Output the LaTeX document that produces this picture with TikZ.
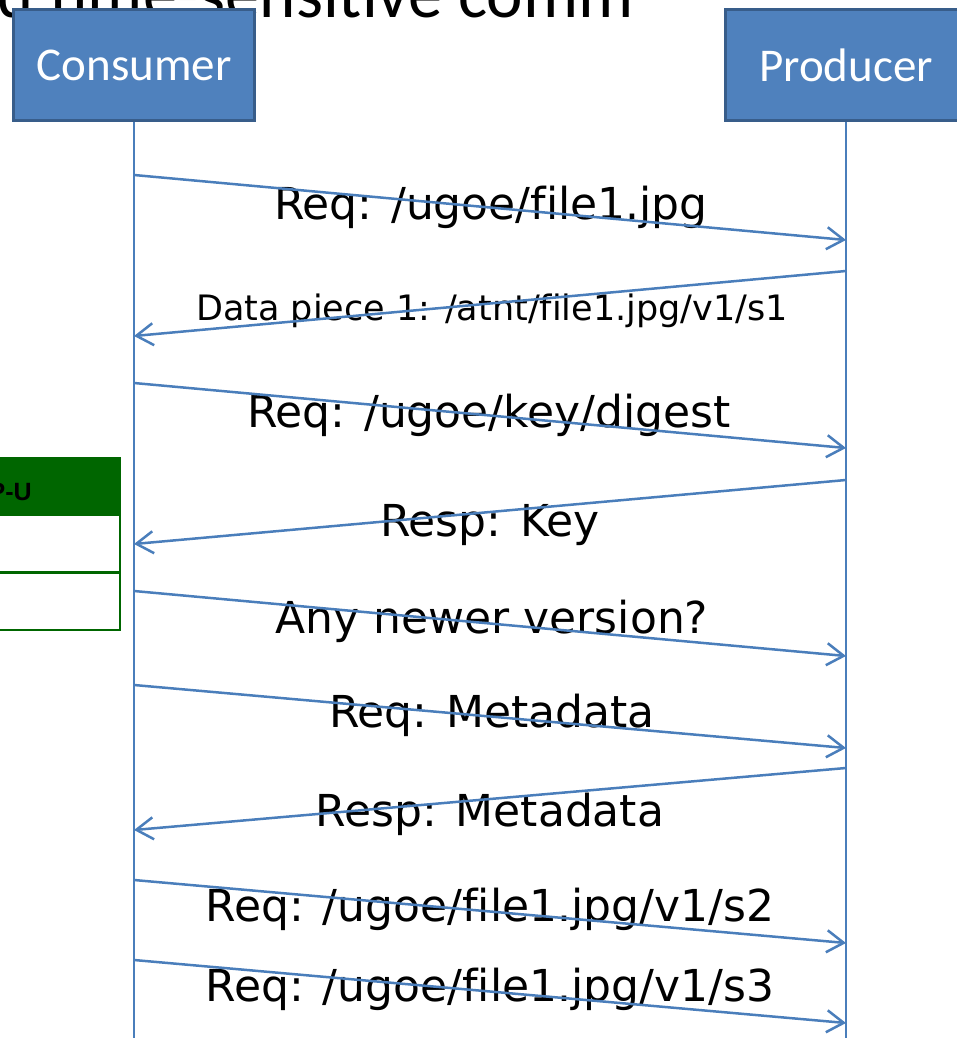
\documentclass[tikz,border=0pt]{standalone}
\usepackage{fontspec}
\setmainfont{DejaVu Sans}[Ligatures=NoCommon]
\newfontfamily\calib{Carlito}[Ligatures=NoCommon]
\newfontfamily\arialf{Liberation Sans}
\usetikzlibrary{arrows.meta}
\definecolor{boxfill}{HTML}{4F81BD}
\definecolor{boxedge}{HTML}{385D8A}
\definecolor{msgline}{HTML}{4A7EBB}
\definecolor{tabgreen}{HTML}{006600}

\begin{document}
\begin{tikzpicture}[x=1pt,y=-1pt,
  actor/.style={draw=boxedge, line width=3pt, fill=boxfill, minimum width=241pt,
    minimum height=111pt, inner sep=0pt, text=white,
    font=\calib\fontsize{47}{56}\selectfont},
  lifeline/.style={draw=msgline, line width=2pt},
  msg/.style={draw=msgline, line width=2.5pt,
    -{Straight Barb[length=17pt,width=22pt]}},
  lbl/.style={anchor=base, inner sep=0pt, font=\fontsize{44}{52}\selectfont},
  smalllbl/.style={anchor=base, inner sep=0pt, font=\fontsize{35}{42}\selectfont},
  tabcell/.style={draw=tabgreen, line width=2pt, minimum width=130pt,
    minimum height=57pt, inner sep=0pt},
]
\useasboundingbox (0,0) rectangle (957,1038);
\clip (0,0) rectangle (957,1038);

% heading line running off the top edge
\node[anchor=base west, inner sep=0pt, font=\calib\fontsize{69}{80}\selectfont]
  (title) at (-3,18) {d time-sensitive comm};

% participants
\node[actor] (cons) at (134,65) {Consumer};
\node[actor] (prod) at (846,65) {Producer};

% lifelines
\coordinate (consend) at (134,1040);
\coordinate (prodend) at (846,1040);
\draw[lifeline] (cons.south) -- (consend);
\draw[lifeline] (prod.south) -- (prodend);

% table column at the left edge
\node[tabcell, fill=tabgreen] (thead) at (55,486) {};
\node[tabcell, fill=white] (trow1) at (55,543.5) {};
\node[tabcell, fill=white] (trow2) at (55,601) {};
\node[anchor=base east, inner sep=0pt, font=\arialf\bfseries\fontsize{25}{30}\selectfont]
  (thtext) at (32,500) {P-U};

% message labels
\node[lbl] (l1) at (491,219) {Req: /ugoe/file1.jpg};
\node[smalllbl] (l2) at (492,320) {Data piece 1: /atnt/file1.jpg/v1/s1};
\node[lbl] (l3) at (489,427) {Req: /ugoe/key/digest};
\node[lbl] (l4) at (490,536) {Resp: Key};
\node[lbl] (l5) at (492,633) {Any newer version?};
\node[lbl] (l6) at (492,727) {Req: Metadata};
\node[lbl] (l7) at (490,826) {Resp: Metadata};
\node[lbl] (l8) at (490,921) {Req: /ugoe/file1.jpg/v1/s2};
\node[lbl] (l9) at (490,1001) {Req: /ugoe/file1.jpg/v1/s3};

% message end points on the lifelines
\coordinate (c1) at (134,175);  \coordinate (p1) at (846,240);
\coordinate (p2) at (846,271);  \coordinate (c2) at (134,336);
\coordinate (c3) at (134,383);  \coordinate (p3) at (846,448);
\coordinate (p4) at (846,480);  \coordinate (c4) at (134,544);
\coordinate (c5) at (134,591);  \coordinate (p5) at (846,656);
\coordinate (c6) at (134,685);  \coordinate (p6) at (846,748);
\coordinate (p7) at (846,768);  \coordinate (c7) at (134,830);
\coordinate (c8) at (134,880);  \coordinate (p8) at (846,943);
\coordinate (c9) at (134,960);  \coordinate (p9) at (846,1023);

% messages
\draw[msg] (c1) -- (p1);
\draw[msg] (p2) -- (c2);
\draw[msg] (c3) -- (p3);
\draw[msg] (p4) -- (c4);
\draw[msg] (c5) -- (p5);
\draw[msg] (c6) -- (p6);
\draw[msg] (p7) -- (c7);
\draw[msg] (c8) -- (p8);
\draw[msg] (c9) -- (p9);
\end{tikzpicture}
\end{document}
